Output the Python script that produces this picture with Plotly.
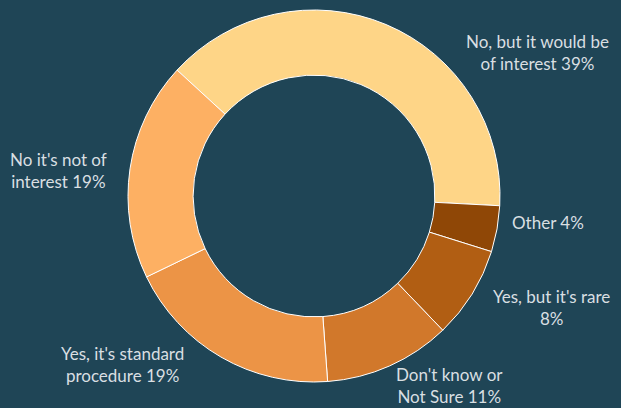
import plotly.graph_objects as go

# Survey answers, in clockwise order around the ring
categories = [
    "No, but it would be of interest",
    "Other",
    "Yes, but it's rare",
    "Don't know or Not Sure",
    "Yes, it's standard procedure",
    "No it's not of interest",
]
shares = [39, 4, 8, 11, 19, 19]
label_text = [
    "No, but it would be<br>of interest 39%",
    "Other 4%",
    "Yes, but it's rare<br>8%",
    "Don't know or<br>Not Sure 11%",
    "Yes, it's standard<br>procedure 19%",
    "No it's not of<br>interest 19%",
]

colors = ["#fed587", "#8f4706", "#b15e13", "#d1782b", "#ec9446", "#fdb063"]
bg = "#1f4556"
text_color = "#d9dfe2"

# Label anchor points in pixels (x, y from top)
label_pos = [(537, 52), (548, 223), (551, 307), (449, 385), (122, 364), (58, 170)]

W, H = 621, 408
cx, cy, r = 314, 196, 186

fig = go.Figure(
    go.Pie(
        labels=categories,
        values=shares,
        sort=False,
        direction="clockwise",
        rotation=-47.4,
        hole=0.65,
        textinfo="none",
        hoverinfo="label+percent",
        marker=dict(colors=colors, line=dict(color="#ffffff", width=1)),
        domain=dict(
            x=[(cx - r) / W, (cx + r) / W],
            y=[1 - (cy + r) / H, 1 - (cy - r) / H],
        ),
        showlegend=False,
    )
)

for txt, (lx, ly) in zip(label_text, label_pos):
    fig.add_annotation(
        x=lx / W,
        y=1 - ly / H,
        xref="paper",
        yref="paper",
        text=txt,
        showarrow=False,
        align="center",
        xanchor="center",
        yanchor="middle",
        font=dict(family="Lato, sans-serif", size=17, color=text_color),
    )

fig.update_layout(
    width=W,
    height=H,
    margin=dict(l=0, r=0, t=0, b=0),
    paper_bgcolor=bg,
    plot_bgcolor=bg,
)

fig.write_html("out.html")
